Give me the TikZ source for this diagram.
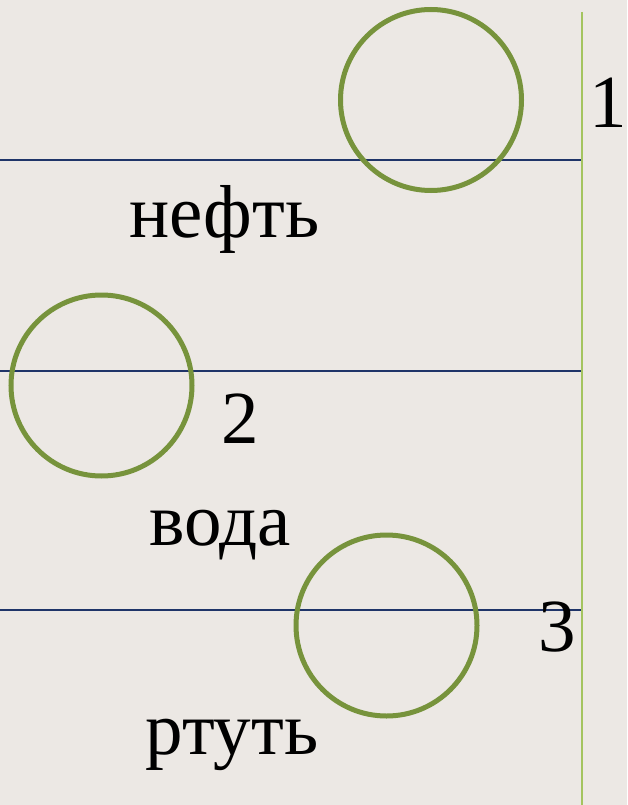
\documentclass[tikz,border=0pt]{standalone}
\usepackage{fontspec}
\setmainfont{Liberation Serif}
\definecolor{bg}{HTML}{ECE8E4}
\definecolor{navy}{HTML}{1F3468}
\definecolor{olive}{HTML}{77933C}
\definecolor{lgreen}{HTML}{A4C45F}
\begin{document}
\begin{tikzpicture}[x=1pt,y=-1pt,
  ring/.style={draw=olive,line width=5pt},
  level/.style={draw=navy,line width=2pt},
  lbl/.style={anchor=base,inner sep=0pt,font=\fontsize{75}{80}\selectfont}]
\fill[bg] (0,0) rectangle (627,805);
\useasboundingbox (0,0) rectangle (627,805);
\coordinate (va) at (582,12);
\coordinate (vb) at (582,805);
\draw[draw=lgreen,line width=2pt] (va) -- (vb);
\coordinate (l1a) at (0,160); \coordinate (l1b) at (581,160);
\coordinate (l2a) at (0,371); \coordinate (l2b) at (581,371);
\coordinate (l3a) at (0,610); \coordinate (l3b) at (581,610);
\draw[level] (l1a) -- (l1b);
\draw[level] (l2a) -- (l2b);
\draw[level] (l3a) -- (l3b);
\node[ring,circle,minimum size=181pt,inner sep=0pt] (c1) at (431,100) {};
\node[ring,circle,minimum size=181pt,inner sep=0pt] (c2) at (101.5,385.5) {};
\node[ring,circle,minimum size=181pt,inner sep=0pt] (c3) at (386.5,625.5) {};
\node[lbl] (t1) at (608.5,128) {1};
\node[lbl] (n1) at (224.5,237) {нефть};
\node[lbl] (t2) at (240.5,443) {2};
\node[lbl] (n2) at (220,545) {вода};
\node[lbl] (t3) at (557.5,651) {3};
\node[lbl] (n3) at (232,754) {ртуть};
\end{tikzpicture}
\end{document}
